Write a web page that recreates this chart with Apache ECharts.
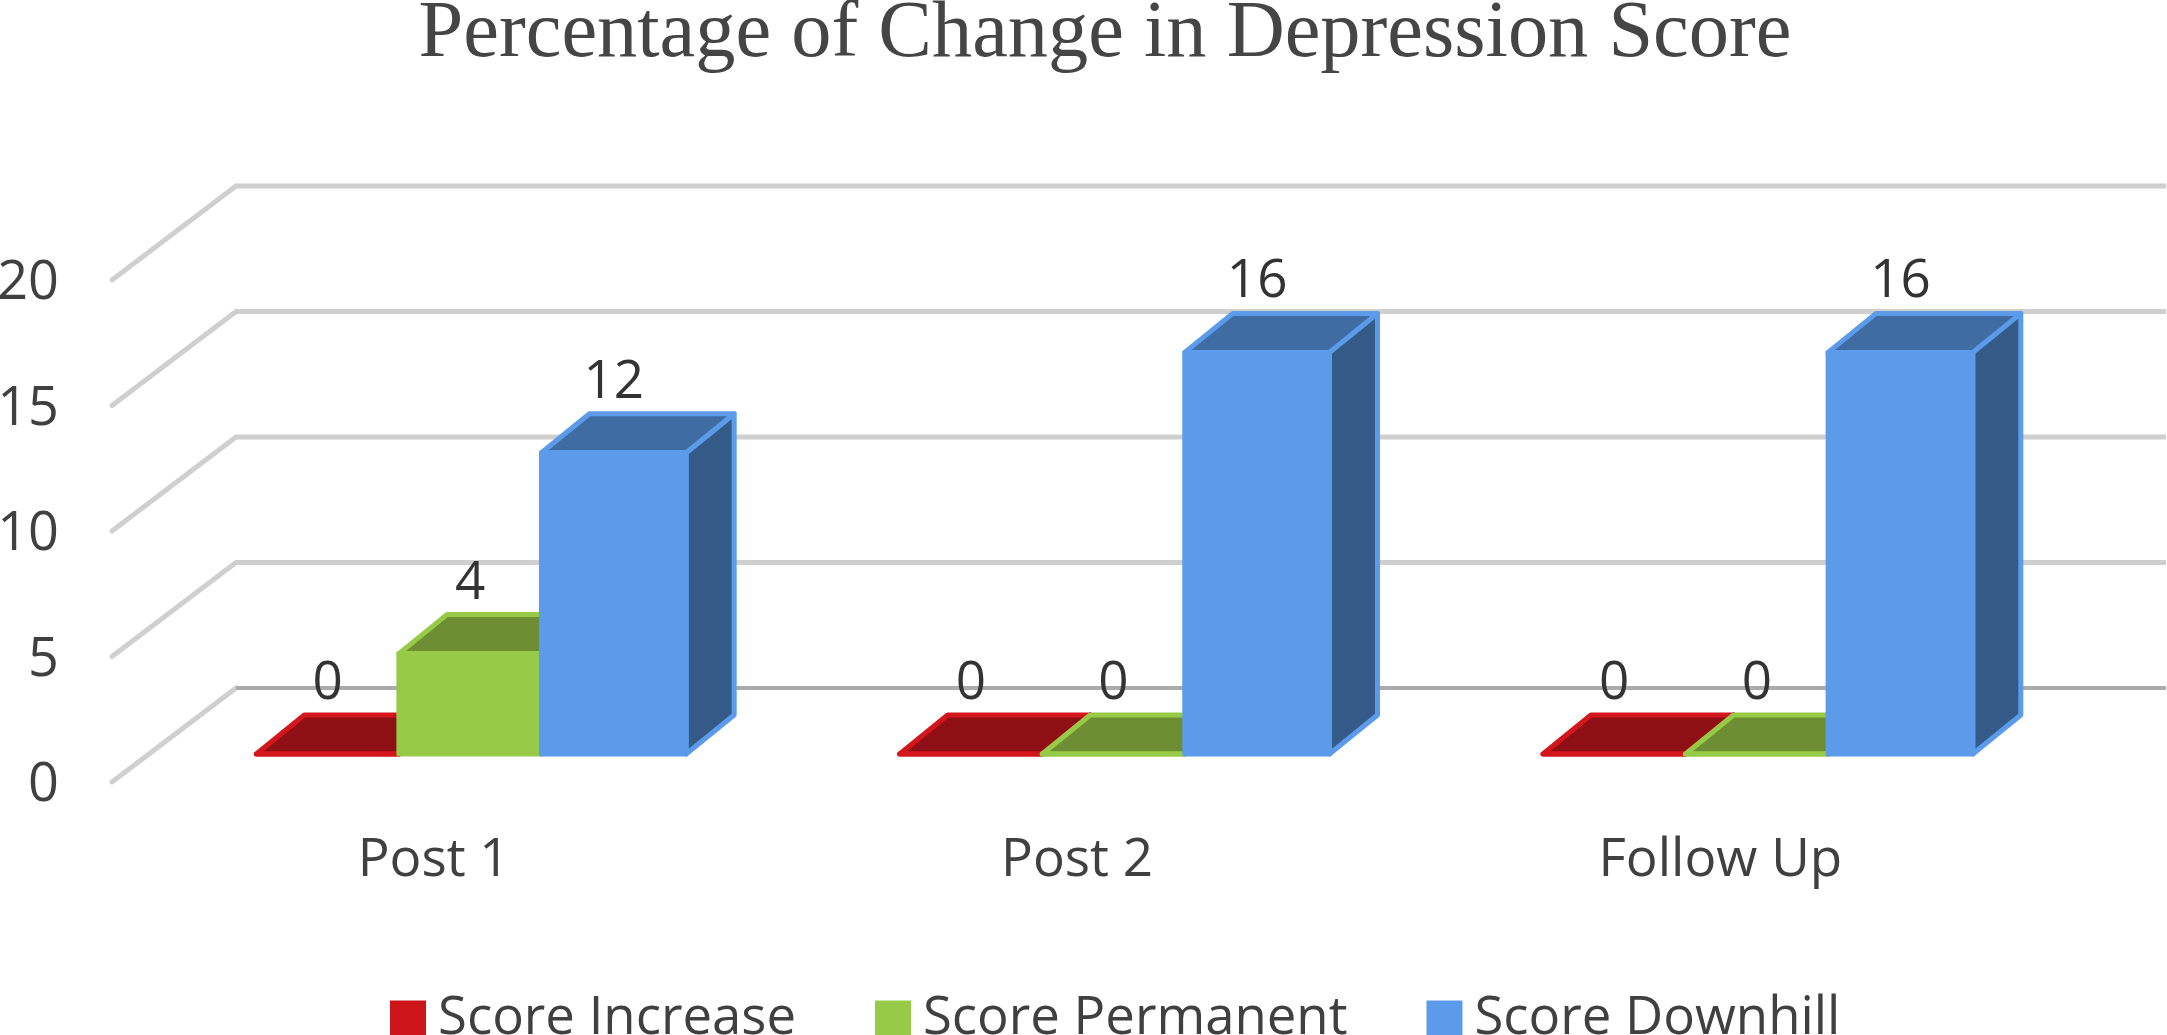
<!DOCTYPE html>
<html>
<head>
<meta charset="utf-8">
<style>html,body{margin:0;padding:0;background:#fff;overflow:hidden}#c{width:2167px;height:1035px}</style>
<script src="https://cdn.jsdelivr.net/npm/echarts@6/dist/echarts.min.js"></script>
</head>
<body>
<div id="c"></div>
<script>
const titleText = 'Percentage of Change in Depression Score';
const categories = ['Post 1', 'Post 2', 'Follow Up'];
const scoreIncrease = [0, 0, 0];
const scorePermanent = [4, 0, 0];
const scoreDownhill = [12, 16, 16];
const yTicks = [0, 5, 10, 15, 20];

const palette = [
  {name:'Score Increase', data:scoreIncrease, front:'#CC161B', top:'#8F1014', side:'#7A0E12', edge:'#D3161C', wf:1},
  {name:'Score Permanent', data:scorePermanent, front:'#97CB47', top:'#6E8E34', side:'#5E7A2C', edge:'#97CB47', wf:1},
  {name:'Score Downhill', data:scoreDownhill, front:'#5B9BE9', top:'#3F6CA3', side:'#345A87', edge:'#5B9BE9', wf:1.015}
];
const BACK = [124, -94], BAR = [36.5, -28], DEPTH = [48, -39];
const BAR_FRACTION = 0.2216;
const FONT = '"Open Sans", sans-serif';

function gridRender(params, api) {
  const cs = params.coordSys;
  const v = api.value(1);
  const y = api.coord([0, v])[1];
  const x0 = cs.x, x1 = cs.x + cs.width;
  const base = {lineWidth:5, stroke:'#CFCFCF', lineCap:'round'};
  return {type:'group', children:[
    {type:'line', shape:{x1:x0,y1:y,x2:x0+BACK[0],y2:y+BACK[1]}, style:base},
    {type:'line', shape:{x1:x0+BACK[0],y1:y+BACK[1],x2:x1+BACK[0],y2:y+BACK[1]},
      style:{lineWidth:v===0?4:5, stroke:v===0?'#ABABAB':'#CFCFCF'}}
  ]};
}

function barRender(idx) {
  return function(params, api) {
    const p = palette[idx];
    const cat = api.value(0), v = api.value(1);
    const w = api.size([1, 0])[0] * BAR_FRACTION;
    const center = api.coord([cat, 0])[0] + BAR[0];
    const y0 = api.coord([cat, 0])[1] + BAR[1];
    const yT = api.coord([cat, v])[1] + BAR[1];
    const l = center + (idx - 1.5) * w, r = l + w * p.wf;
    const cx = (l + r) / 2;
    const d = DEPTH;
    const edge = {stroke:p.edge, lineWidth:5, lineJoin:'round'};
    return {type:'group', children:[
      {type:'polygon', shape:{points:[[r,y0],[r+d[0],y0+d[1]],[r+d[0],yT+d[1]],[r,yT]]}, style:{fill:p.side, ...edge}},
      {type:'polygon', shape:{points:[[l,yT],[l+d[0],yT+d[1]],[r+d[0],yT+d[1]],[r,yT]]}, style:{fill:p.top, ...edge}},
      {type:'polygon', shape:{points:[[l,y0],[r,y0],[r,yT],[l,yT]]}, style:{fill:p.front, ...edge}},
      {type:'text', style:{text:String(v), x:cx, y:yT+d[1]-31, align:'center', verticalAlign:'middle',
        font:'53px '+FONT, fill:'#333333'}}
    ]};
  };
}

const chart = echarts.init(document.getElementById('c'), null, {renderer:'canvas', width:2167, height:1035});
chart.setOption({
  animation:false,
  backgroundColor:'#fff',
  title:{text:titleText, left:1100, top:-10, textAlign:'center',
    textStyle:{fontFamily:'"Liberation Serif", serif', fontSize:80.4, fontWeight:'normal', color:'#454545'}},
  legend:{data:palette.map(p=>p.name), left:385, top:987, itemWidth:36, itemHeight:36, itemGap:79, icon:'rect',
    textStyle:{fontFamily:FONT, fontSize:52.7, color:'#404040', padding:[0,0,0,7]}},
  grid:{left:112, top:280, width:1930, height:502, outerBoundsMode:'none'},
  xAxis:{type:'category', data:categories, axisLine:{show:false}, axisTick:{show:false}, splitLine:{show:false},
    axisLabel:{margin:52, interval:0, fontFamily:FONT, fontSize:53, color:'#404040'}},
  yAxis:{type:'value', min:0, max:20, interval:5, axisLine:{show:false}, axisTick:{show:false}, splitLine:{show:false},
    axisLabel:{margin:53, fontFamily:FONT, fontSize:54, color:'#404040', verticalAlign:'top', lineHeight:8}},
  series:[
    {type:'custom', name:'grid', silent:true, renderItem:gridRender, clip:false, encode:{x:0,y:1},
      data:yTicks.map(t=>[0,t])},
    ...palette.map((p,i)=>({type:'custom', name:p.name, renderItem:barRender(i), clip:false, encode:{x:0,y:1},
      itemStyle:{color:p.front}, data:p.data.map((v,c)=>[c,v])}))
  ]
});
</script>
</body>
</html>
